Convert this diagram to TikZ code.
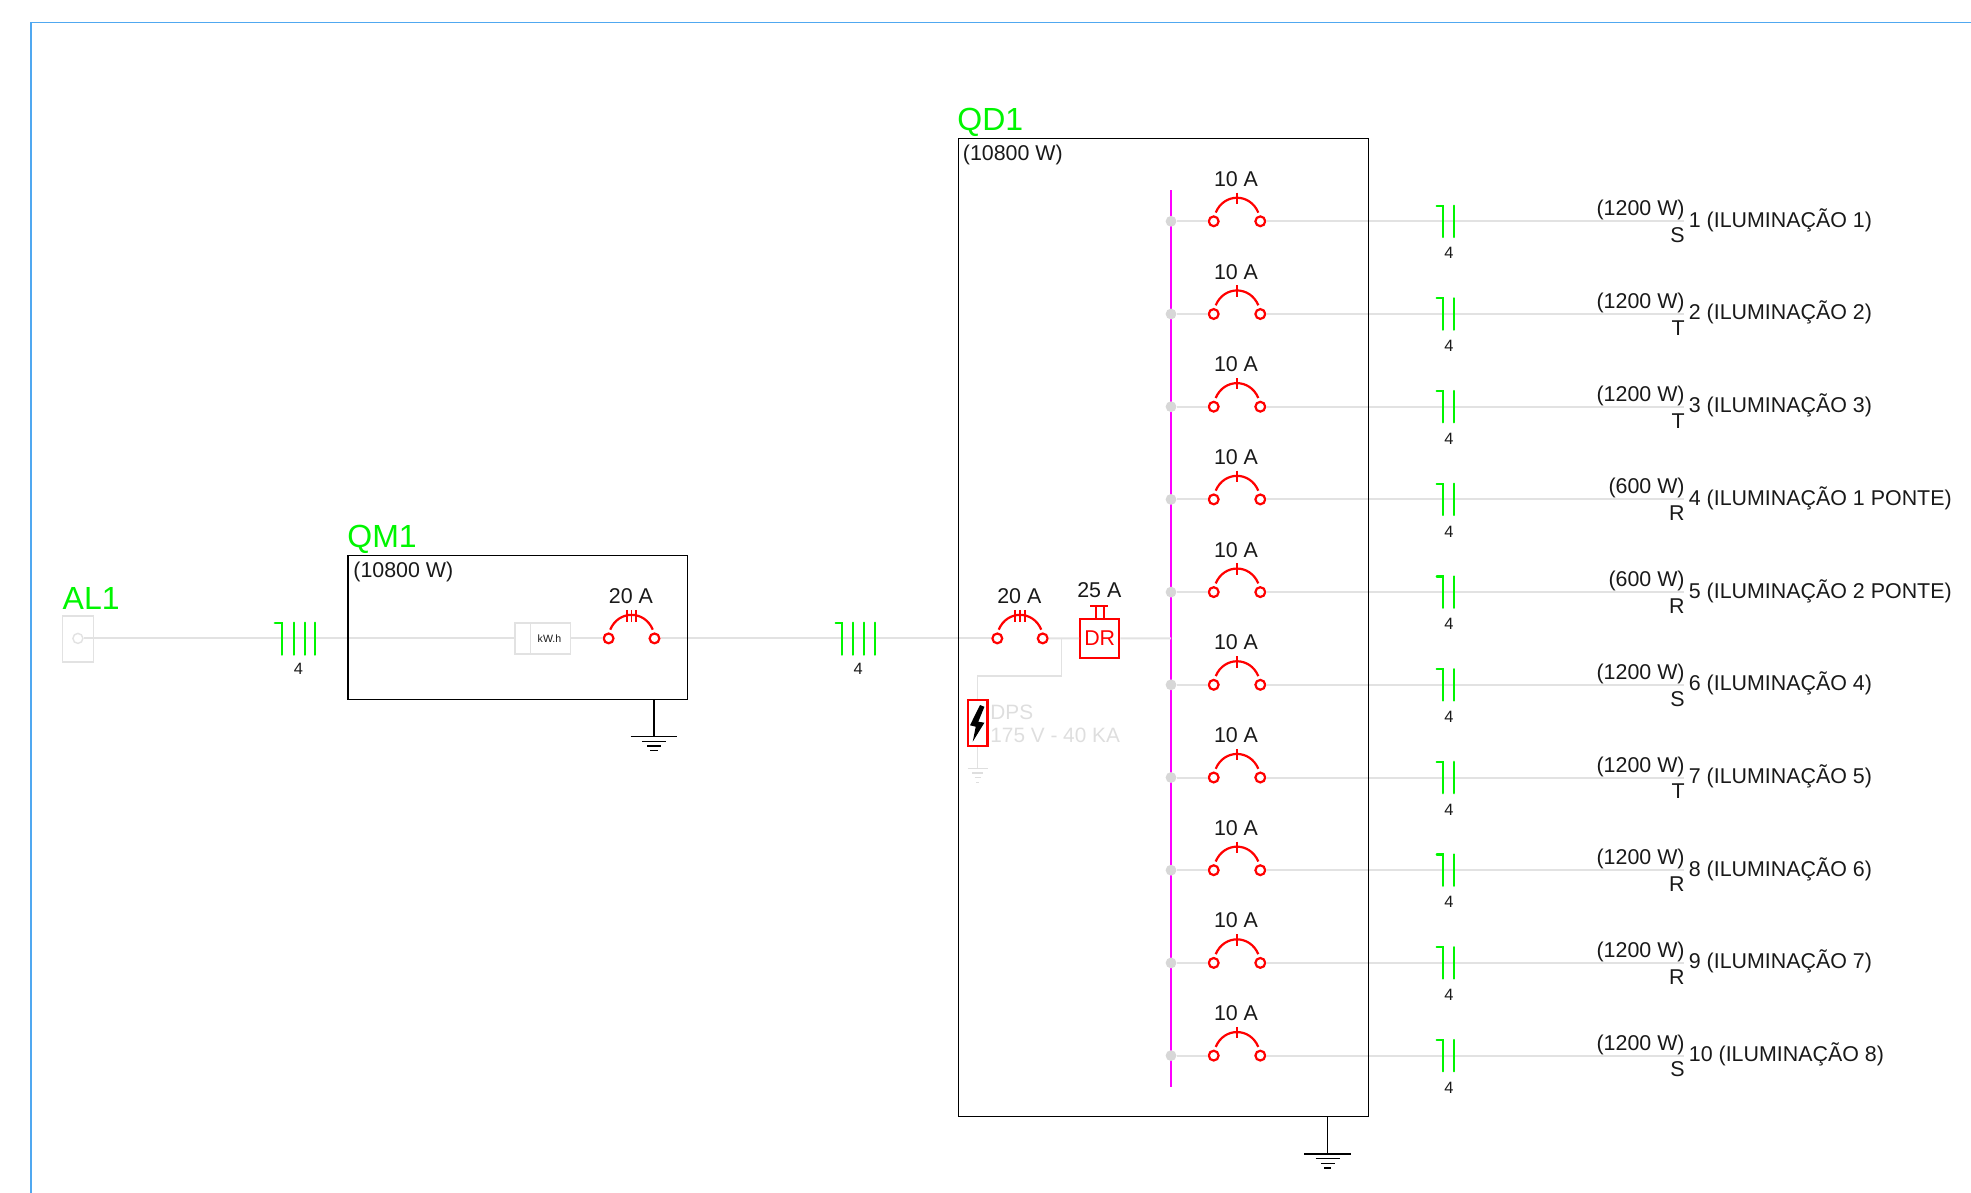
\documentclass[tikz,border=0pt]{standalone}
\usepackage{fontspec}
\setmainfont{Liberation Sans}
\definecolor{wiregray}{RGB}{226,226,226}
\definecolor{dotgray}{RGB}{215,215,215}
\definecolor{dpsgray}{RGB}{222,222,222}
\definecolor{framecol}{RGB}{80,168,240}
\definecolor{cablegreen}{RGB}{0,245,0}
\definecolor{buscol}{RGB}{255,0,255}
\definecolor{inkcol}{RGB}{25,25,25}
\tikzset{
  x=0.5pt,y=-0.5pt,
  wire/.style={draw=wiregray,line width=1pt},
  thinwire/.style={draw=wiregray,line width=0.7pt},
  frameline/.style={draw=framecol,line width=0.55pt},
  redline/.style={draw=red,line width=1.1pt},
  cableline/.style={draw=cablegreen,line width=1.1pt,line cap=round},
  blackline/.style={draw=black,line width=0.75pt},
  terminal/.style={circle,draw=red,fill=white,line width=1.1pt,minimum size=4.9pt,inner sep=0pt},
  busdot/.style={circle,fill=dotgray,minimum size=5.4pt,inner sep=0pt},
  lbl/.style={inner sep=0pt,text=inkcol,font=\fontsize{10.7}{12}\selectfont},
  smalllbl/.style={inner sep=0pt,text=inkcol,font=\fontsize{8.2}{9}\selectfont},
  tag/.style={inner sep=0pt,text=cablegreen,font=\fontsize{16}{18}\selectfont},
  panel/.style={draw=black,line width=0.75pt,inner sep=0pt},
}
\newcommand{\breakerarc}[2]{% x, y of row
  \draw[redline] ({#1-21.3},{#2-8.7}) .. controls ({#1-13},{#2-28.5}) and ({#1+13},{#2-28.5}) .. ({#1+21.3},{#2-8.7});
}
\newcommand{\gndbars}[4]{% style, x, y, scale
  \draw[#1] ({#2-23.4*#4},{#3}) -- ({#2+23.4*#4},{#3});
  \draw[#1] ({#2-12.2*#4},{#3+4.7}) -- ({#2+12.2*#4},{#3+4.7});
  \draw[#1] ({#2-6.8*#4},{#3+9.3}) -- ({#2+6.8*#4},{#3+9.3});
  \draw[#1] ({#2-3.7*#4},{#3+14}) -- ({#2+3.7*#4},{#3+14});
}
\begin{document}
\begin{tikzpicture}
\useasboundingbox (0,0) rectangle (1971,1193);
% outer frame
\coordinate (fa) at (31,1193);
\coordinate (fb) at (31,22.6);
\coordinate (fc) at (1971,22.6);
\draw[frameline] (fa) -- (fb) -- (fc);

% AL1 and entry
\node[draw=wiregray,line width=0.8pt,fill=white,minimum width=15.6pt,minimum height=23pt,inner sep=0pt] (al) at (77.9,639) {};
\node[circle,draw=wiregray,line width=0.7pt,fill=white,minimum size=5pt,inner sep=0pt] (alc) at (77.9,638.4) {};
\node[tag,anchor=base west] (altag) at (62.3,609.3) {AL1};

% QM1 components
\node[draw=wiregray,line width=0.8pt,fill=white,minimum width=27.8pt,minimum height=15.7pt,inner sep=0pt] (meter) at (542.5,638.4) {};
\draw[draw=wiregray,line width=0.6pt] (530.3,623.3) -- (530.3,654.7);
\node[inner sep=0pt,text=inkcol,font=\fontsize{5.3}{6}\selectfont] (mtxt) at (549.5,639) {kW.h};
\node[terminal] (qa) at (608.6,638.4) {};
\node[terminal] (qb) at (654.5,638.4) {};
\node[lbl] (qalbl) at (631,596) {20 A};
\breakerarc{631.5}{638.4}
\foreach \xx in {627,631.5,636} \draw[redline,line width=0.8pt] (\xx,609.8) -- (\xx,621.7);

% QD1 incoming components
\node[terminal] (da) at (997.3,638.4) {};
\node[terminal] (db) at (1042.7,638.4) {};
\node[lbl] (dalbl) at (1019.3,596) {20 A};
\breakerarc{1020}{638.4}
\foreach \xx in {1015,1020,1025} \draw[redline,line width=0.8pt] (\xx,609.8) -- (\xx,621.7);
\node[draw=red,line width=1.1pt,fill=white,minimum width=19.6pt,minimum height=19.3pt,inner sep=0pt,text=red,font=\fontsize{10.7}{12}\selectfont] (dr) at (1099.7,638.3) {DR};
\node[lbl] (drlbl) at (1099.3,590) {25 A};
\draw[redline] (1090,605.7) -- (1108.3,605.7);
\draw[redline] (1096,605.7) -- (1096,619);
\draw[redline] (1104,605.7) -- (1104,619);

% Busbar and circuits
\coordinate (bt) at (1171,190);
\coordinate (bb) at (1171,1087.3);
\coordinate (bm) at (1171,638.4);
\draw[draw=buscol,line width=1.4pt] (bt) -- (bb);

% main line connectors
\draw[wire] (alc) -- (meter);
\draw[wire] (meter) -- (qa);
\draw[wire] (qb) -- (da);
\draw[wire] (db) -- (dr);
\draw[wire] (dr) -- (bm);

% DPS
\coordinate (tap) at (1061.7,638.4);
\coordinate (dk) at (977.6,676);
\coordinate (dg) at (977.6,768.3);
\node[draw=red,line width=1.1pt,fill=white,minimum width=9.9pt,minimum height=23pt,inner sep=0pt] (dps) at (977.6,723.3) {};
\draw[thinwire] (tap) |- (dk) -- (dps.north);
\draw[thinwire] (dps.south) -- (dg);
\gndbars{draw=dpsgray,line width=0.7pt}{977.6}{768.3}{0.43}
\fill[black] (980,705) -- (984.4,706.8) -- (978.3,721.7) -- (984.4,722.7) -- (972.7,741.7) -- (975.7,726.7) -- (970,725.3) -- cycle;
\node[inner sep=0pt,anchor=west,text=dpsgray,font=\fontsize{10.4}{12}\selectfont] (dpsa) at (990,712.3) {DPS};
\node[inner sep=0pt,anchor=west,text=dpsgray,font=\fontsize{10.4}{12}\selectfont] (dpsb) at (990,735) {175 V - 40 KA};

% Circuits
\foreach \n/\w/\ph/\lab in {
  0/1200 W/S/1 (ILUMINAÇÃO 1),
  1/1200 W/T/2 (ILUMINAÇÃO 2),
  2/1200 W/T/3 (ILUMINAÇÃO 3),
  3/600 W/R/4 (ILUMINAÇÃO 1 PONTE),
  4/600 W/R/5 (ILUMINAÇÃO 2 PONTE),
  5/1200 W/S/6 (ILUMINAÇÃO 4),
  6/1200 W/T/7 (ILUMINAÇÃO 5),
  7/1200 W/R/8 (ILUMINAÇÃO 6),
  8/1200 W/R/9 (ILUMINAÇÃO 7),
  9/1200 W/S/10 (ILUMINAÇÃO 8)}{
  \pgfmathsetmacro{\ry}{221.3+92.7*\n}
  \node[busdot] (bd\n) at (1171,\ry) {};
  \node[terminal] (ca\n) at (1213.7,\ry) {};
  \node[terminal] (cb\n) at (1260.3,\ry) {};
  \coordinate (ce\n) at (1684,\ry);
  \draw[wire] (bd\n) -- (ca\n);
  \draw[wire] (cb\n) -- (ce\n);
  \breakerarc{1237}{\ry}
  \draw[redline,line width=0.8pt] (1236.7,{\ry-28.7}) -- (1236.7,{\ry-17.3});
  \node[lbl] (cl\n) at (1236,{\ry-42.3}) {10 A};
  \draw[cableline] (1436.7,{\ry-15.7}) -- (1443.3,{\ry-15.7}) -- (1443.3,{\ry+15.7});
  \draw[cableline] (1454.3,{\ry-15.7}) -- (1454.3,{\ry+15.7});
  \node[smalllbl] (cn\n) at (1449,{\ry+32}) {4};
  \node[lbl,anchor=east] (cw\n) at (1685,{\ry-11}) {(\w)};
  \node[lbl,anchor=east] (cp\n) at (1685,{\ry+14}) {\ph};
  \node[lbl,anchor=west] (ct\n) at (1688.5,{\ry-1.2}) {\lab};
}

% incoming cable marks
\draw[cableline] (274.8,622.7) -- (282,622.7) -- (282,654.7);
\foreach \xx in {294.2,304.7,315.3} \draw[cableline] (\xx,622.7) -- (\xx,654.7);
\node[smalllbl] (cq) at (298.4,669.3) {4};
\draw[cableline] (835.7,622.7) -- (842.3,622.7) -- (842.3,654.7);
\foreach \xx in {853.3,864,874.7} \draw[cableline] (\xx,622.7) -- (\xx,654.7);
\node[smalllbl] (cd) at (858.3,669.3) {4};

% panels
\node[panel,minimum width=169.8pt,minimum height=72pt] (qm) at (517.8,627.6) {};
\node[tag,anchor=base west] (qmtag) at (347,547.7) {QM1};
\node[lbl,anchor=west] (qmw) at (353,571.5) {(10800 W)};
\coordinate (gm) at (654,736.7);
\draw[blackline] (qm.south -| gm) -- (gm);
\gndbars{blackline}{654}{736.7}{1}

\node[panel,minimum width=205pt,minimum height=489.2pt] (qd) at (1163.7,627.5) {};
\node[tag,anchor=base west] (qdtag) at (957,130.5) {QD1};
\node[lbl,anchor=west] (qdw) at (962.5,154.5) {(10800 W)};
\coordinate (gd) at (1327.7,1154);
\draw[blackline] (qd.south -| gd) -- (gd);
\gndbars{blackline}{1327.7}{1154}{1}
\end{tikzpicture}
\end{document}
